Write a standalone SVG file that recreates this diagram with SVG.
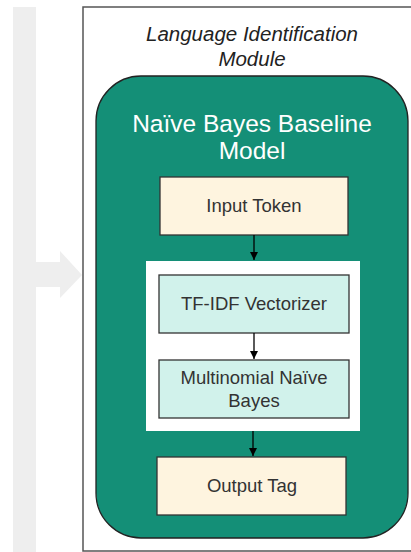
<svg xmlns="http://www.w3.org/2000/svg" width="411" height="552" viewBox="0 0 411 552">
<defs>
<style>
.lbl{font-family:"Liberation Sans",Arial,sans-serif;font-size:18.5px;fill:#333;text-anchor:middle}
.box{stroke:#333;stroke-width:1.3}
.edge{stroke:#000;stroke-width:1.3;fill:none}
</style>
<marker id="ah" markerWidth="8" markerHeight="8" refX="8" refY="4" orient="auto" markerUnits="userSpaceOnUse">
<path d="M0,0 L8,4 L0,8 Z" fill="#000"/>
</marker>
</defs>
<rect width="411" height="552" fill="#fff"/>
<g id="side-band">
<rect x="13" y="7" width="23" height="545" fill="#eeeeee"/>
<polygon points="36,262 60,262 60,251 82,275 60,298 60,287 36,287" fill="#eeeeee"/>
</g>
<g id="module">
<path d="M420,7 L83,7 L83,551 L420,551" fill="#fff" stroke="#555" stroke-width="1.5"/>
<text x="252" y="41" font-family="'Liberation Sans',Arial,sans-serif" font-size="20.5" font-style="italic" fill="#222" text-anchor="middle">Language Identification</text>
<text x="252" y="66" font-family="'Liberation Sans',Arial,sans-serif" font-size="20.5" font-style="italic" fill="#222" text-anchor="middle">Module</text>
</g>
<g id="nb-model">
<rect x="96" y="76" width="312" height="462" rx="45" ry="45" fill="#148f77" stroke="#222" stroke-width="1.3"/>
<text x="252" y="132" font-family="'Liberation Sans',Arial,sans-serif" font-size="24.5" fill="#fff" text-anchor="middle">Naïve Bayes Baseline</text>
<text x="252" y="159" font-family="'Liberation Sans',Arial,sans-serif" font-size="24.5" fill="#fff" text-anchor="middle">Model</text>
</g>
<g id="input-token">
<rect class="box" x="160" y="177" width="188" height="58" fill="#fef4df"/>
<text class="lbl" x="254" y="212">Input Token</text>
</g>
<g id="pipeline">
<rect x="146" y="261" width="214" height="170" fill="#fff"/>
</g>
<g id="tfidf">
<rect class="box" x="159" y="275" width="190" height="58" fill="#d1f2eb"/>
<text class="lbl" x="254" y="310">TF-IDF Vectorizer</text>
</g>
<g id="mnb">
<rect class="box" x="159" y="360" width="190" height="58" fill="#d1f2eb"/>
<text class="lbl" x="254" y="384">Multinomial Naïve</text>
<text class="lbl" x="254" y="407">Bayes</text>
</g>
<g id="output-tag">
<rect class="box" x="157" y="457" width="189" height="58" fill="#fef4df"/>
<text class="lbl" x="252" y="492">Output Tag</text>
</g>
<g id="connectors">
<line class="edge" x1="254" y1="235" x2="254" y2="260" marker-end="url(#ah)"/>
<line class="edge" x1="254" y1="333" x2="254" y2="359" marker-end="url(#ah)"/>
<line class="edge" x1="253" y1="431" x2="253" y2="456" marker-end="url(#ah)"/>
</g>
</svg>
